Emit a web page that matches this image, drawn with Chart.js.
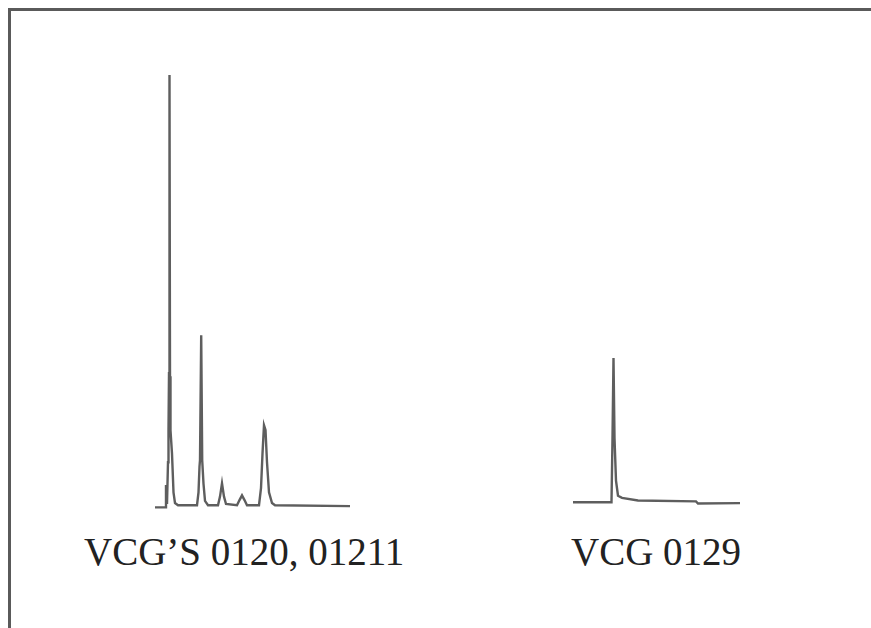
<!DOCTYPE html>
<html>
<head>
<meta charset="utf-8">
<script src="https://cdn.jsdelivr.net/npm/chart.js@4.4.1/dist/chart.umd.min.js"></script>
<style>
  html, body { margin: 0; padding: 0; background: #fff; }
  body { width: 871px; height: 628px; position: relative; overflow: hidden; }
  .frame { position: absolute; left: 8px; top: 8px; width: 880px; height: 640px;
           border-top: 3px solid #5a5a5a; border-left: 3px solid #5a5a5a; }
  .box { position: absolute; }
  .label { position: absolute; font-family: "Liberation Serif", "DejaVu Serif", serif;
           font-size: 39px; line-height: 39px; color: #222; white-space: nowrap; }
</style>
</head>
<body>
<div class="frame"></div>
<div class="box" style="left:150px; top:60px; width:210px; height:456px;"><canvas id="leftChart"></canvas></div>
<div class="box" style="left:563px; top:330px; width:190px; height:183px;"><canvas id="rightChart"></canvas></div>
<div class="label" style="left:84px; top:532px;">VCG’S 0120, 01211</div>
<div class="label" style="left:571px; top:532px;">VCG 0129</div>
<script>
(function(){
  'use strict';

  // Trace 1 — VCG'S 0120, 01211 (time in min, relative response)
  const leftTime = [0, 1.1, 1.1, 1.2, 1.3, 1.35, 1.4, 1.45, 1.5, 1.55, 1.7, 1.85, 2.0, 2.3,
                    4.2, 4.35, 4.45, 4.5, 4.62, 4.72, 4.85, 5.0, 5.3,
                    6.3, 6.5, 6.7, 6.9, 7.1,
                    8.2, 8.45, 8.7, 8.95, 9.2,
                    10.4, 10.6, 10.75, 10.9, 11.05, 11.2, 11.4, 11.7, 12.0,
                    19.5];
  const leftResp = [-0.5, -0.5, 4.7, 0.3, 10, 17.4, 30.7, 100, 30, 17.4, 12, 3, 0.5, 0,
                    0, 3, 9, 10.5, 39.5, 10.5, 5, 1, 0,
                    0, 2, 5.1, 2, 0.3,
                    0, 1.2, 2.3, 1.2, 0,
                    0, 4, 12, 18.6, 17.5, 10, 3, 0.5, 0,
                    -0.2];

  // Trace 2 — VCG 0129
  const rightTime = [0, 3.85, 3.95, 4.05, 4.15, 4.3, 4.5, 4.9, 6.5, 12.3, 12.5, 16.7];
  const rightResp = [0, 0, 14.9, 33.5, 14.9, 5, 1.5, 1, 0.4, 0.2, -0.3, -0.2];

  const LINE = '#5e5e5e';

  function makeChart(id, xs, ys, xMin, xMax, yMin, yMax){
    const ctx = document.getElementById(id).getContext('2d');
    return new Chart(ctx, {
      type: 'line',
      data: {
        datasets: [{
          data: xs.map((x, i) => ({ x: x, y: ys[i] })),
          borderColor: LINE,
          borderWidth: 2.4,
          pointRadius: 0,
          tension: 0,
          fill: false,
          clip: false
        }]
      },
      options: {
        responsive: true, maintainAspectRatio: false, animation: false,
        layout: { padding: 0 },
        plugins: { legend: { display: false }, tooltip: { enabled: false } },
        scales: {
          x: { type: 'linear', min: xMin, max: xMax, display: false },
          y: { min: yMin, max: yMax, display: false }
        }
      }
    });
  }

  makeChart('leftChart', leftTime, leftResp, -0.5, 20.5, -2.5, 103.5);
  makeChart('rightChart', rightTime, rightResp, -1.0, 18.0, -2.5, 40);
})();
</script>
</body>
</html>
